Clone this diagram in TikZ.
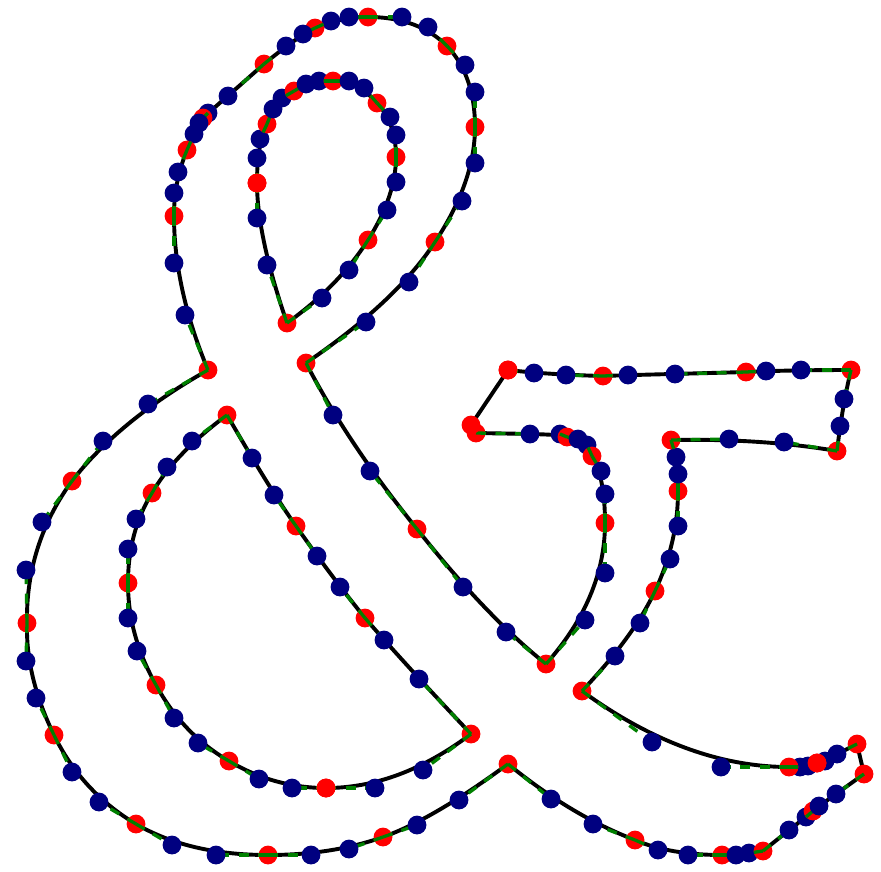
\documentclass[tikz,border=0pt]{standalone}
\usepackage{xcolor}
\definecolor{handlegreen}{RGB}{0,128,0}
\definecolor{ctrlblue}{RGB}{0,0,128}
\newcommand{\glyphmain}{476/433/530/434/560/434/567/437,567/437/578/439/587/445/592/456,
  592/456/601/471/605/494/605/523,605/523/605/573/585/620/546/664,
  546/664/506/632/463/587/417/529,417/529/370/471/333/415/306/363,
  306/363/366/322/409/282/435/242,435/242/462/201/475/163/475/127,
  475/127/475/92/465/65/447/46,447/46/428/27/402/17/368/17,
  368/17/349/17/331/21/315/28,315/28/303/34/286/46/264/64,
  264/64/228/96/208/113/203/118,203/118/199/123/194/134/187/150,
  187/150/178/172/174/193/174/216,174/216/174/263/185/315/208/370,
  208/370/148/404/103/441/72/481,72/481/42/522/26/570/27/623,
  27/623/26/661/36/698/54/735,54/735/72/772/99/802/136/824,
  136/824/172/845/216/855/268/855,268/855/311/855/349/849/383/837,
  383/837/417/825/459/800/508/764,508/764/551/799/593/824/635/840,
  635/840/658/850/688/855/722/855,722/855/736/855/749/853/763/851,
  763/851/789/830/806/817/813/811,813/811/819/806/836/794/864/774}
\newcommand{\glyphtail}{857/744/837/754/825/761/817/763,817/763/808/766/800/767/789/767,
  789/767/721/767/652/742/582/691,582/691/615/656/640/623/655/591,
  655/591/670/559/678/526/678/491,678/491/678/474/676/457/671/440,
  671/440/729/439/784/442/837/451,837/451/840/426/844/399/851/370,
  851/370/801/370/766/371/746/372,746/372/675/374/628/375/603/376,
  603/376/566/375/534/373/508/370}
\newcommand{\glyphloop}{257/183/257/158/260/139/267/124,267/124/273/109/282/98/294/91,
  294/91/306/84/319/81/333/81,333/81/349/81/364/88/377/103,
  377/103/390/117/396/135/396/157,396/157/396/182/387/210/368/240,
  368/240/349/270/322/298/287/323,287/323/267/265/257/218/257/183}
\newcommand{\glyphbowl}{326/788/292/788/259/779/229/761,229/761/198/743/174/718/156/685,
  156/685/137/651/128/618/128/583,128/583/128/549/136/519/152/493,
  152/493/167/467/192/441/227/415,227/415/252/458/274/495/296/526,
  296/526/317/556/340/587/365/618,365/618/384/640/419/679/471/734,
  471/734/423/770/375/788/326/788}
\newcommand{\curvepass}[1]{\foreach \ax/\ay/\bx/\by/\cx/\cy/\dx/\dy in #1 {
    \draw[outline] (\ax,\ay) .. controls (\bx,\by) and (\cx,\cy) .. (\dx,\dy);}}
\newcommand{\dotpass}[1]{\foreach \ax/\ay/\bx/\by/\cx/\cy/\dx/\dy in #1 {
    \draw[handle] (\ax,\ay) -- (\bx,\by);
    \draw[handle] (\dx,\dy) -- (\cx,\cy);
    \fill[offcurve] (\bx,\by) circle (9.4);
    \fill[offcurve] (\cx,\cy) circle (9.4);
    \fill[oncurve] (\dx,\dy) circle (9.4);
    \begin{scope}
      \clip (\dx,\dy) circle (9.4);
      \draw[handle] (\dx,\dy) -- (\cx,\cy);
    \end{scope}}}
\begin{document}
\begin{tikzpicture}[
  x=1pt,y=-1pt,
  outline/.style={black,line width=3.9pt},
  handle/.style={handlegreen,line width=3.3pt,dash pattern=on 10pt off 9.5pt},
  oncurve/.style={fill=red},
  offcurve/.style={fill=ctrlblue}
]
\useasboundingbox (0,0) rectangle (881,871);
% curve
\curvepass{\glyphmain}
\curvepass{\glyphtail}
\curvepass{\glyphloop}
\curvepass{\glyphbowl}
\draw[outline] (476,433) -- (471,425) -- (508,370);
\draw[outline] (864,774) -- (857,744);
% start points
\fill[oncurve] (476,433) circle (9.4);
\fill[oncurve] (857,744) circle (9.4);
% handles and points
\dotpass{\glyphmain}
\dotpass{\glyphtail}
\dotpass{\glyphloop}
\dotpass{\glyphbowl}
% points on top
\foreach \px/\py in {508/370,471/425,817/763,257/183,326/788}
  \fill[oncurve] (\px,\py) circle (9.4);
\end{tikzpicture}
\end{document}
